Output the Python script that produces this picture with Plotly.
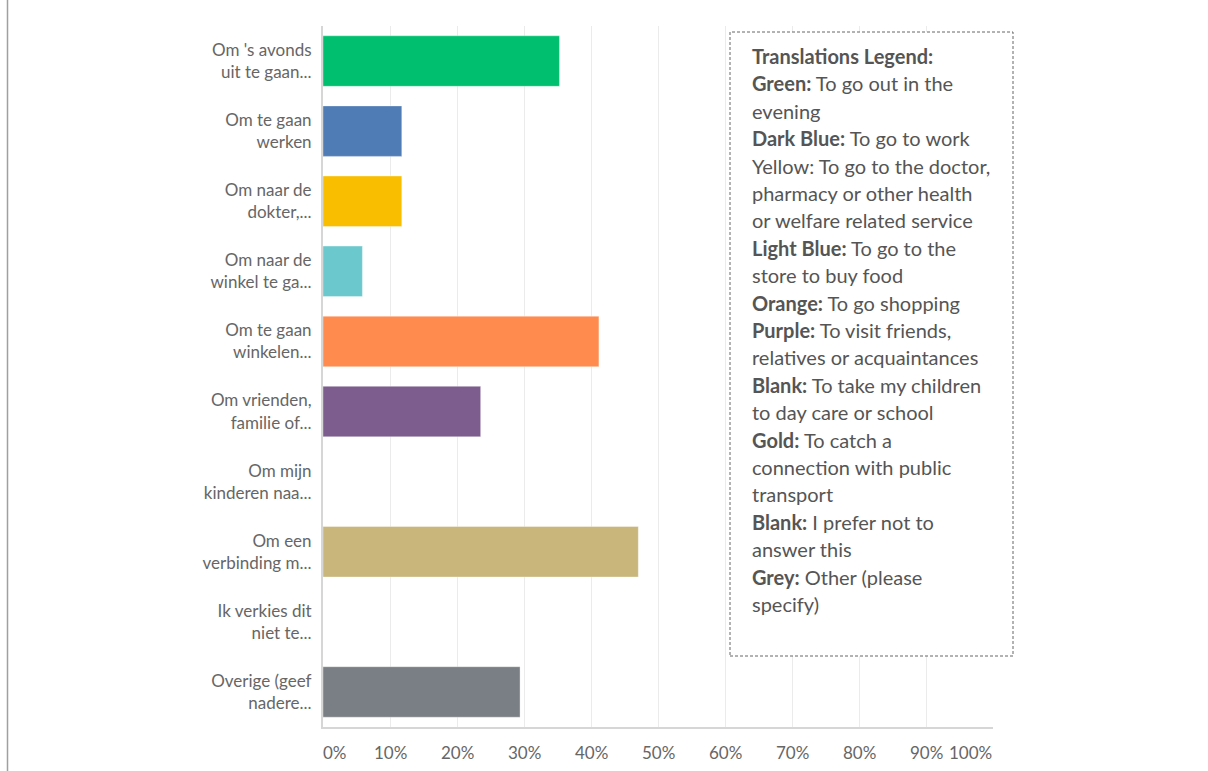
import plotly.graph_objects as go

# Survey answers (Dutch), share of respondents in percent
categories = [
    "Om 's avonds<br>uit te gaan...",
    "Om te gaan<br>werken",
    "Om naar de<br>dokter,...",
    "Om naar de<br>winkel te ga...",
    "Om te gaan<br>winkelen...",
    "Om vrienden,<br>familie of...",
    "Om mijn<br>kinderen naa...",
    "Om een<br>verbinding m...",
    "Ik verkies dit<br>niet te...",
    "Overige (geef<br>nadere...",
]
values = [35.29, 11.76, 11.76, 5.88, 41.18, 23.53, 0.0, 47.06, 0.0, 29.41]
bar_colors = ["#00BF6F", "#507CB6", "#F9BE00", "#6BC8CD", "#FF8B4F",
              "#7D5C8E", "#D25F90", "#C8B67A", "#9FA5AA", "#7A7F85"]

tick_values = [0, 10, 20, 30, 40, 50, 60, 70, 80, 90, 100]
tick_labels = ["0%", "10%", "20%", "30%", "40%", "50%", "60%", "70%", "80%", "90%", "100%"]

# Translation notes: (bold prefix, text) per line
legend_lines = [
    ("Translations Legend:", ""),
    ("Green:", " To go out in the"),
    ("", "evening"),
    ("Dark Blue:", " To go to work"),
    ("", "Yellow: To go to the doctor,"),
    ("", "pharmacy or other health"),
    ("", "or welfare related service"),
    ("Light Blue:", " To go to the"),
    ("", "store to buy food"),
    ("Orange:", " To go shopping"),
    ("Purple:", " To visit friends,"),
    ("", "relatives or acquaintances"),
    ("Blank:", " To take my children"),
    ("", "to day care or school"),
    ("Gold:", " To catch a"),
    ("", "connection with public"),
    ("", "transport"),
    ("Blank:", " I prefer not to"),
    ("", "answer this"),
    ("Grey:", " Other (please"),
    ("", "specify)"),
]

W, H = 1208, 771
M_L, M_R, M_T, M_B = 323, 215, 26, 44
PW, PH = W - M_L - M_R, H - M_T - M_B


def px_x(x):
    return (x - M_L) / PW


def px_y(y):
    return 1 - (y - M_T) / PH


fig = go.Figure(go.Bar(
    x=values,
    y=categories,
    orientation="h",
    marker=dict(color=bar_colors, line=dict(color="rgba(255,255,255,0.35)", width=1)),
    width=0.72,
    hoverinfo="x+y",
))

FONT = "Lato"

fig.update_layout(
    width=W, height=H,
    margin=dict(l=M_L, r=M_R, t=M_T, b=M_B),
    paper_bgcolor="white",
    plot_bgcolor="white",
    showlegend=False,
    font=dict(family=FONT, color="#6a6a6a"),
    xaxis=dict(
        range=[0, 100],
        tickvals=tick_values,
        showticklabels=False,
        showgrid=True,
        gridcolor="#ebebeb",
        gridwidth=1,
        zeroline=False,
        showline=True,
        linecolor="#d6d6d6",
        linewidth=2,
        fixedrange=True,
    ),
    yaxis=dict(
        categoryorder="array",
        categoryarray=categories,
        autorange="reversed",
        showline=True,
        linecolor="#d6d6d6",
        linewidth=2,
        ticks="",
        ticklabelstandoff=6,
        tickfont=dict(family=FONT, size=17, color="#666666"),
        showgrid=False,
        fixedrange=True,
    ),
)

# x-axis percentage labels (end labels nudged inwards to stay inside the axis)
label_shift = {0: 12, 100: -23}
for v, t in zip(tick_values, tick_labels):
    fig.add_annotation(
        x=v, y=0, xref="x", yref="paper",
        text=t, showarrow=False,
        yanchor="middle", yshift=-25, xshift=label_shift.get(v, 0),
        font=dict(family=FONT, size=17, color="#666666"),
    )

# page border on the left
fig.add_shape(type="line", xref="paper", yref="paper",
              x0=px_x(7.5), x1=px_x(7.5), y0=px_y(-5), y1=px_y(H + 5),
              line=dict(color="#a0a0a0", width=1.5))

# dashed translation box
fig.add_shape(type="rect", xref="paper", yref="paper",
              x0=px_x(730), x1=px_x(1013), y0=px_y(656), y1=px_y(32),
              fillcolor="white", layer="above",
              line=dict(color="#666666", width=1, dash="3px,2px"))

line_h = 27.4
top = 56
for i, (bold, rest) in enumerate(legend_lines):
    txt = (f"<b>{bold}</b>" if bold else "") + rest
    fig.add_annotation(
        x=px_x(750), y=px_y(top + i * line_h), xref="paper", yref="paper",
        text=txt, showarrow=False, xanchor="left", yanchor="middle", align="left",
        font=dict(family=FONT, size=20, color="#555555"),
    )

fig.write_html("out.html")
